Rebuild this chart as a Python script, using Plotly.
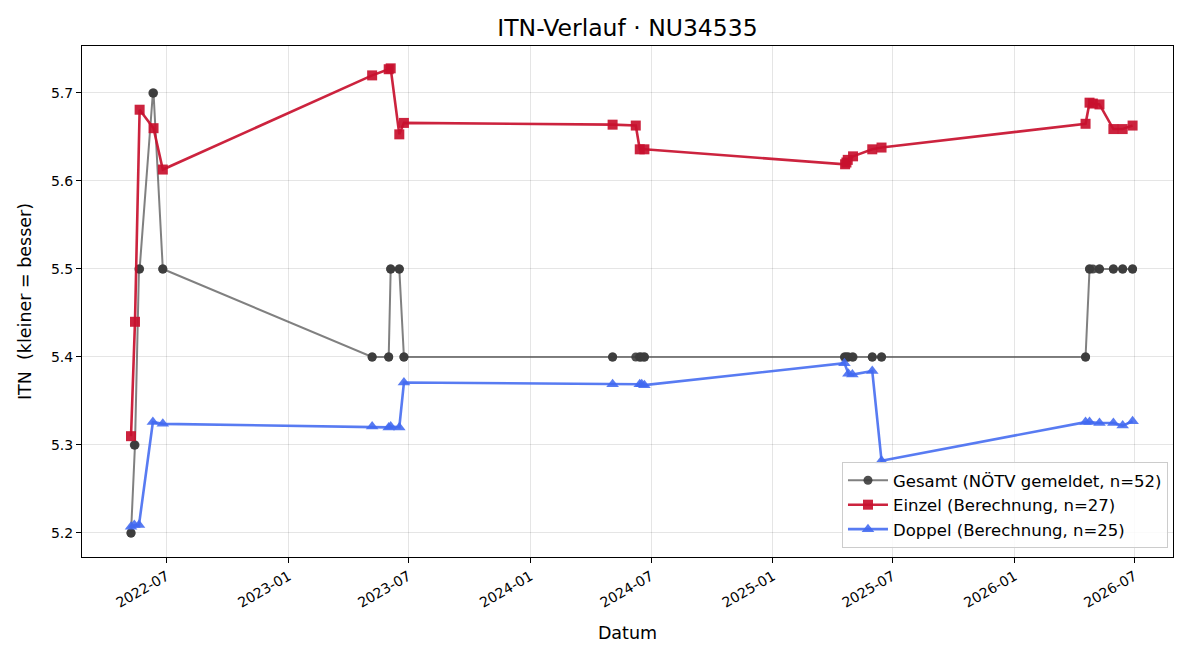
import plotly.graph_objects as go

# ---- data ----
einzel_dates = [
    "2022-05-08", "2022-05-14", "2022-05-21", "2022-06-11", "2022-06-25",
    "2023-05-07", "2023-06-01", "2023-06-04", "2023-06-17", "2023-06-24",
    "2024-05-04", "2024-06-08", "2024-06-14", "2024-06-21",
    "2025-04-20", "2025-04-22", "2025-04-24", "2025-05-02", "2025-05-31", "2025-06-14",
    "2026-04-18", "2026-04-24", "2026-04-29", "2026-05-09", "2026-05-30", "2026-06-13", "2026-06-28",
]
einzel_vals = [
    5.310, 5.440, 5.681, 5.660, 5.613,
    5.720, 5.727, 5.728, 5.653, 5.666,
    5.664, 5.663, 5.636, 5.636,
    5.619, 5.621, 5.624, 5.628, 5.636, 5.638,
    5.665, 5.689, 5.688, 5.687, 5.659, 5.659, 5.663,
]

doppel_dates = [
    "2022-05-08", "2022-05-13", "2022-05-20", "2022-06-10", "2022-06-25",
    "2023-05-07", "2023-06-01", "2023-06-04", "2023-06-17", "2023-06-24",
    "2024-05-04", "2024-06-14", "2024-06-17", "2024-06-21",
    "2025-04-19", "2025-04-25", "2025-05-01", "2025-05-31", "2025-06-14",
    "2026-04-18", "2026-04-24", "2026-05-09", "2026-05-30", "2026-06-13", "2026-06-28",
]
doppel_vals = [
    5.207, 5.209, 5.209, 5.326, 5.324,
    5.321, 5.320, 5.321, 5.320, 5.371,
    5.369, 5.369, 5.369, 5.368,
    5.393, 5.381, 5.380, 5.384, 5.282,
    5.326, 5.326, 5.325, 5.325, 5.322, 5.327,
]

gesamt_dates = [
    "2022-05-08", "2022-05-08", "2022-05-13", "2022-05-14", "2022-05-20",
    "2022-05-21", "2022-06-10", "2022-06-11", "2022-06-25", "2022-06-25",
    "2023-05-07", "2023-05-07", "2023-06-01", "2023-06-01", "2023-06-04",
    "2023-06-04", "2023-06-17", "2023-06-17", "2023-06-24", "2023-06-24",
    "2024-05-04", "2024-05-04", "2024-06-08", "2024-06-14", "2024-06-14",
    "2024-06-17", "2024-06-21", "2024-06-21",
    "2025-04-19", "2025-04-20", "2025-04-22", "2025-04-24", "2025-04-25",
    "2025-05-01", "2025-05-02", "2025-05-31", "2025-05-31", "2025-06-14", "2025-06-14",
    "2026-04-18", "2026-04-18", "2026-04-24", "2026-04-24", "2026-04-29",
    "2026-05-09", "2026-05-09", "2026-05-30", "2026-05-30", "2026-06-13",
    "2026-06-13", "2026-06-28", "2026-06-28",
]
gesamt_vals = [
    5.2, 5.2, 5.3, 5.3, 5.5, 5.5, 5.7, 5.7, 5.5, 5.5,
    5.4, 5.4, 5.4, 5.4, 5.5, 5.5, 5.5, 5.5, 5.4, 5.4,
    5.4, 5.4, 5.4, 5.4, 5.4, 5.4, 5.4, 5.4,
    5.4, 5.4, 5.4, 5.4, 5.4, 5.4, 5.4, 5.4, 5.4, 5.4, 5.4,
    5.4, 5.4, 5.5, 5.5, 5.5, 5.5, 5.5, 5.5, 5.5, 5.5, 5.5, 5.5, 5.5,
]

series_names = [
    "Gesamt (NÖTV gemeldet, n=52)",
    "Einzel (Berechnung, n=27)",
    "Doppel (Berechnung, n=25)",
]

FONT = "DejaVu Sans"

fig = go.Figure()
fig.add_trace(go.Scatter(
    x=gesamt_dates, y=gesamt_vals, mode="lines+markers", name=series_names[0],
    line=dict(color="rgba(85,85,85,0.75)", width=2),
    marker=dict(symbol="circle", size=9, color="rgba(60,60,60,0.9)"),
))
fig.add_trace(go.Scatter(
    x=einzel_dates, y=einzel_vals, mode="lines+markers", name=series_names[1],
    line=dict(color="rgba(200,16,46,0.92)", width=2.6),
    marker=dict(symbol="square", size=10, color="rgba(200,16,46,0.92)"),
))
fig.add_trace(go.Scatter(
    x=doppel_dates, y=doppel_vals, mode="lines+markers", name=series_names[2],
    line=dict(color="rgba(65,105,240,0.88)", width=2.6),
    marker=dict(symbol="triangle-up", size=11, color="rgba(65,105,240,0.88)"),
))

axis_common = dict(
    showline=True, linecolor="black", linewidth=1, mirror=True,
    ticks="outside", ticklen=5, tickcolor="black",
    showgrid=True, gridcolor="rgba(0,0,0,0.1)", gridwidth=1,
    zeroline=False,
    tickfont=dict(family=FONT, size=14, color="black"),
)

fig.update_layout(
    width=1200, height=660,
    paper_bgcolor="white", plot_bgcolor="white",
    margin=dict(l=82, r=27, t=46, b=103),
    title=dict(text="ITN-Verlauf · NU34535", x=0.5, xref="paper", xanchor="center",
               y=0.958, yanchor="middle",
               font=dict(family=FONT, size=23.5, color="black")),
    font=dict(family=FONT, size=14, color="black"),
    xaxis=dict(
        **axis_common,
        type="date",
        range=["2022-02-23", "2026-08-28"],
        tick0="2022-07-01", dtick="M6", tickformat="%Y-%m", tickangle=-30,
        title=dict(text="Datum", font=dict(family=FONT, size=17.5), standoff=17),
    ),
    yaxis=dict(
        **axis_common,
        range=[5.1727, 5.7534],
        tickvals=[5.2, 5.3, 5.4, 5.5, 5.6, 5.7],
        ticktext=["5.2", "5.3", "5.4", "5.5", "5.6", "5.7"],
        title=dict(text="ITN\u00a0\u00a0(kleiner = besser)", font=dict(family=FONT, size=17.5), standoff=14),
    ),
    legend=dict(
        x=0.9954, y=0.0176, xanchor="right", yanchor="bottom",
        bgcolor="rgba(255,255,255,0.85)", bordercolor="#cccccc", borderwidth=1,
        font=dict(family=FONT, size=16.5, color="black"),
        itemwidth=40,
        tracegroupgap=2,
    ),
    showlegend=True,
)

fig.write_html("out.html")
